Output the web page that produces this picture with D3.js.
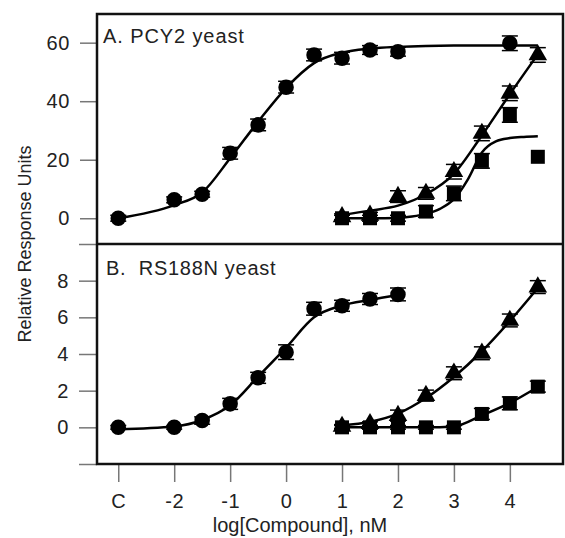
<!DOCTYPE html>
<html>
<head>
	<script src="https://d3js.org/d3.v7.min.js"></script>
	<meta charset="utf-8">
	<title>Relative response</title>
	<style>
		body { margin: 0; background: #fff; }
		text { font-family: "Liberation Sans", Arial, sans-serif; }
	</style>
</head>
<body>
	<div id="chart"></div>

	<script type="text/javascript">

		// x axis (log concentration, C = control)
		var xTickVals = [-3, -2, -1, 0, 1, 2, 3, 4];
		var xTickLabels = ["C", "-2", "-1", "0", "1", "2", "3", "4"];
		var yTicksA = [0, 20, 40, 60];
		var yTicksB = [-2, 0, 2, 4, 6, 8, 10];
		var yLabelsB = [0, 2, 4, 6, 8];

		// Panel A - PCY2 yeast
		var circA_x = [-3, -2, -1.5, -1, -0.5, 0, 0.5, 1, 1.5, 2, 4];
		var circA_y = [0, 6.3, 8.2, 22.2, 31.9, 44.8, 55.8, 54.7, 57.5, 56.9, 59.8];
		var circA_err = [1, 1, 1, 2, 2, 2, 2, 2, 1.5, 1.5, 2.5];
		var circA_fitX = [-3, -2, -1.5, -1, -0.5, 0, 0.5, 1, 1.5, 2, 2.5, 3, 3.5, 4, 4.5];
		var circA_fitY = [0, 4.5, 8.8, 20.5, 33, 44.5, 53, 56.6, 58, 58.6, 58.9, 59, 59, 59, 59];

		var triA_x = [1, 1.5, 2, 2.5, 3, 3.5, 4, 4.5];
		var triA_y = [0.5, 1, 7.4, 8.5, 15.9, 29, 42.7, 55.8];
		var triA_err = [1, 1, 2, 2, 2.5, 2.5, 2.5, 2.5];
		var triA_fitX = [1, 1.5, 2, 2.5, 3, 3.5, 4, 4.5];
		var triA_fitY = [1.1, 2.6, 4.3, 8.2, 15.2, 28.3, 42.4, 56];

		var sqA_x = [1, 1.5, 2, 2.5, 3, 3.5, 4, 4.5];
		var sqA_y = [0, 0, 0, 2.3, 8.5, 19.6, 35.3, 21];
		var sqA_err = [1, 1, 1, 2, 2.5, 2.5, 2.5, 0];
		var sqA_fitX = [1, 1.5, 2, 2.25, 2.5, 2.75, 3, 3.25, 3.5, 3.75, 4, 4.25, 4.5];
		var sqA_fitY = [0, 0, 0.1, 0.6, 1.5, 3.2, 6.5, 13.3, 22.5, 26.3, 27.4, 27.8, 28];

		// Panel B - RS188N yeast
		var circB_x = [-3, -2, -1.5, -1, -0.5, 0, 0.5, 1, 1.5, 2];
		var circB_y = [0, 0, 0.37, 1.28, 2.7, 4.1, 6.47, 6.63, 7.0, 7.25];
		var circB_err = [0.1, 0.1, 0.2, 0.3, 0.3, 0.4, 0.35, 0.3, 0.3, 0.35];
		var circB_fitX = [-3, -2, -1.5, -1, -0.5, 0, 0.5, 1, 1.5, 2];
		var circB_fitY = [-0.1, 0.05, 0.4, 1.2, 2.77, 4.35, 6.0, 6.65, 6.95, 7.2];

		var triB_x = [1, 1.5, 2, 2.5, 3, 3.5, 4, 4.5];
		var triB_y = [0.05, 0.2, 0.64, 1.73, 2.95, 4.04, 5.83, 7.65];
		var triB_err = [0.1, 0.1, 0.3, 0.3, 0.35, 0.35, 0.35, 0.35];
		var triB_fitX = [1, 1.5, 2, 2.5, 3, 3.5, 4, 4.5];
		var triB_fitY = [0.1, 0.3, 0.75, 1.6, 2.75, 4.15, 5.8, 7.6];

		var sqB_x = [1, 1.5, 2, 2.5, 3, 3.5, 4, 4.5];
		var sqB_y = [0, 0, 0, 0, 0, 0.73, 1.31, 2.22];
		var sqB_err = [0.1, 0.1, 0.1, 0.1, 0.1, 0.3, 0.35, 0.3];
		var sqB_fitX = [1, 1.5, 2, 2.5, 3, 3.5, 4, 4.5];
		var sqB_fitY = [0, 0, 0, 0, 0.05, 0.65, 1.33, 2.2];

		var svgwidth = 565;
		var svgheight = 538;
		var left = 97, right = 563;
		var topA = 14, mid = 244, bottomB = 464;

		var svg = d3.select("#chart").append("svg")
			.attr("width", svgwidth)
			.attr("height", svgheight);

		var xScale = d3.scaleLinear()
			.domain([-3.38, 4.95])
			.range([left, right]);

		var yScaleA = d3.scaleLinear()
			.domain([-8.8, 69.8])
			.range([mid, topA]);

		var yScaleB = d3.scaleLinear()
			.domain([-2, 10])
			.range([bottomB, mid]);

		function zip(xs, ys, es) {
			return xs.map(function(x, i){
				return {x: x, y: ys[i], e: es ? es[i] : 0};
			});
		}

		// axes
		var yAxisA = d3.axisLeft(yScaleA).tickValues(yTicksA)
			.tickSize(17).tickPadding(10);
		var yAxisB = d3.axisLeft(yScaleB).tickValues(yTicksB)
			.tickSize(18).tickPadding(10)
			.tickFormat(function(d){ return yLabelsB.indexOf(d) >= 0 ? d : ""; });
		var xAxis = d3.axisBottom(xScale).tickValues(xTickVals)
			.tickSize(18).tickPadding(12)
			.tickFormat(function(d, i){ return xTickLabels[i]; });

		function styleAxis(g) {
			g.select(".domain").remove();
			g.selectAll(".tick line").attr("stroke", "#777").attr("stroke-width", 1.5);
			g.selectAll(".tick text").attr("fill", "#222")
				.style("font-family", "'Liberation Sans', Arial, sans-serif")
				.style("font-size", "20px")
				.style("letter-spacing", "0.6px");
		}

		svg.append("g").attr("transform", "translate(" + left + ",0)")
			.call(yAxisA).call(styleAxis);
		svg.append("g").attr("transform", "translate(" + left + ",0)")
			.call(yAxisB).call(styleAxis);
		svg.append("g").attr("transform", "translate(0," + bottomB + ")")
			.call(xAxis).call(styleAxis);

		// frames
		svg.append("rect")
			.attr("x", left).attr("y", topA)
			.attr("width", right - left).attr("height", bottomB - topA)
			.attr("fill", "none").attr("stroke", "#111").attr("stroke-width", 2.5);
		svg.append("line")
			.attr("x1", left).attr("x2", right)
			.attr("y1", mid).attr("y2", mid)
			.attr("stroke", "#111").attr("stroke-width", 2.5);

		// panel titles
		svg.append("text").attr("x", 103).attr("y", 43)
			.attr("font-size", 20).attr("fill", "#222")
			.style("letter-spacing", "0.9px")
			.text("A. PCY2 yeast");
		svg.append("text").attr("x", 106).attr("y", 275)
			.attr("font-size", 20).attr("fill", "#222")
			.style("letter-spacing", "0.7px")
			.attr("xml:space", "preserve")
			.text("B.  RS188N yeast");

		// axis titles
		svg.append("text")
			.attr("transform", "translate(31,244) rotate(-90)")
			.attr("text-anchor", "middle")
			.attr("font-size", 18).attr("fill", "#222")
			.text("Relative Response Units");
		svg.append("text")
			.attr("x", 300).attr("y", 532)
			.attr("text-anchor", "middle")
			.attr("font-size", 20).attr("fill", "#222")
			.text("log[Compound], nM");

		// fitted curves
		function drawFit(xs, ys, yScale) {
			var line = d3.line()
				.x(function(d){ return xScale(d.x); })
				.y(function(d){ return yScale(d.y); })
				.curve(d3.curveMonotoneX);
			svg.append("path")
				.datum(zip(xs, ys))
				.attr("d", line)
				.attr("fill", "none")
				.attr("stroke", "#000")
				.attr("stroke-width", 2.5);
		}

		drawFit(circA_fitX, circA_fitY, yScaleA);
		drawFit(triA_fitX, triA_fitY, yScaleA);
		drawFit(sqA_fitX, sqA_fitY, yScaleA);
		drawFit(circB_fitX, circB_fitY, yScaleB);
		drawFit(triB_fitX, triB_fitY, yScaleB);
		drawFit(sqB_fitX, sqB_fitY, yScaleB);

		// points with error bars
		var symbols = {
			circle: d3.symbol().type(d3.symbolCircle).size(190),
			triangle: d3.symbol().type(d3.symbolTriangle).size(150),
			square: d3.symbol().type(d3.symbolSquare).size(196)
		};

		function drawPoints(data, yScale, shape) {
			var g = svg.append("g");
			var pts = g.selectAll("g").data(data).enter().append("g");

			pts.append("path")
				.attr("d", symbols[shape])
				.attr("transform", function(d){
					return "translate(" + xScale(d.x) + "," + yScale(d.y) + ")";
				})
				.attr("fill", "#000");

			// error caps
			pts.filter(function(d){ return d.e > 0; })
				.selectAll("line.cap")
				.data(function(d){ return [d.y - d.e, d.y + d.e].map(function(v){ return {x: d.x, v: v}; }); })
				.enter().append("line")
				.attr("class", "cap")
				.attr("x1", function(d){ return xScale(d.x) - 8; })
				.attr("x2", function(d){ return xScale(d.x) + 8; })
				.attr("y1", function(d){ return yScale(d.v); })
				.attr("y2", function(d){ return yScale(d.v); })
				.attr("stroke", "#000")
				.attr("stroke-width", 1.5);
		}

		drawPoints(zip(circA_x, circA_y, circA_err), yScaleA, "circle");
		drawPoints(zip(triA_x, triA_y, triA_err), yScaleA, "triangle");
		drawPoints(zip(sqA_x, sqA_y, sqA_err), yScaleA, "square");
		drawPoints(zip(circB_x, circB_y, circB_err), yScaleB, "circle");
		drawPoints(zip(triB_x, triB_y, triB_err), yScaleB, "triangle");
		drawPoints(zip(sqB_x, sqB_y, sqB_err), yScaleB, "square");

	</script>

</body>
</html>
